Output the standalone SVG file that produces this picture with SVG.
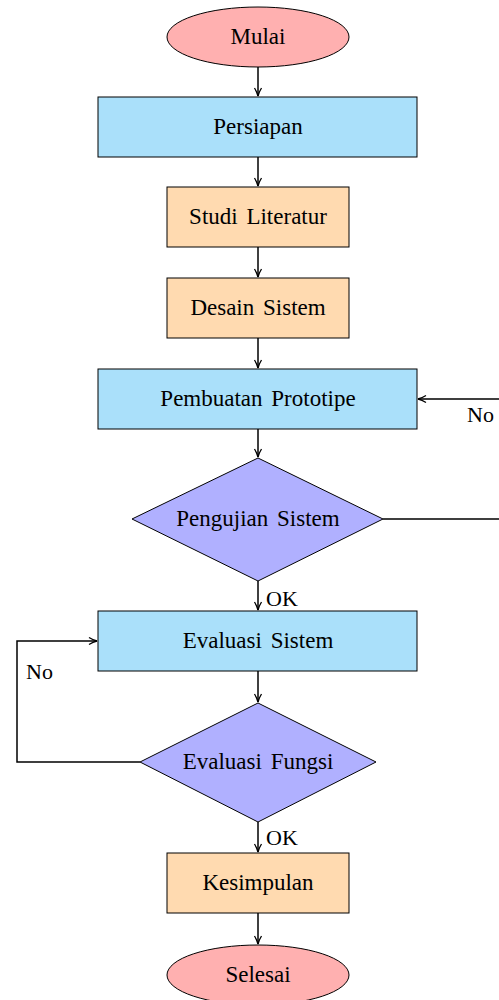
<svg xmlns="http://www.w3.org/2000/svg" width="499" height="1000" viewBox="0 0 499 1000">
<defs>
<style>
.term{fill:#FFB0B0;stroke:#000;stroke-width:1}
.proc{fill:#AAE0FA;stroke:#000;stroke-width:1}
.step{fill:#FFDAB0;stroke:#000;stroke-width:1}
.dec{fill:#B0B0FF;stroke:#000;stroke-width:1}
.c{fill:none;stroke:#000;stroke-width:1.5}
</style>
<marker id="a" viewBox="0 0 10 10" refX="9" refY="5" markerWidth="10" markerHeight="10" markerUnits="userSpaceOnUse" orient="auto">
<path d="M1,1.5 Q5,4 9,5 Q5,6 1,8.5" fill="none" stroke="#000" stroke-width="1.3"/>
</marker>
</defs>
<g id="connectors">
<path class="c" d="M258,67 V96" marker-end="url(#a)"/>
<path class="c" d="M258,157 V186" marker-end="url(#a)"/>
<path class="c" d="M258,247 V277" marker-end="url(#a)"/>
<path class="c" d="M258,338 V368" marker-end="url(#a)"/>
<path class="c" d="M258,429 V457" marker-end="url(#a)"/>
<path class="c" d="M258,581 V610" marker-end="url(#a)"/>
<path class="c" d="M258,671 V702" marker-end="url(#a)"/>
<path class="c" d="M258,822 V852" marker-end="url(#a)"/>
<path class="c" d="M258,913 V944" marker-end="url(#a)"/>
<path class="c" d="M383,519 H530 V399 H418" marker-end="url(#a)"/>
<path class="c" d="M140,762 H17 V641 H97" marker-end="url(#a)"/>
<g font-family="'Liberation Serif', 'Times New Roman', serif" font-size="22">
<text x="266" y="606">OK</text>
<text x="266" y="845">OK</text>
<text x="467" y="422">No</text>
<text x="26" y="679">No</text>
</g>
</g>
<g font-family="'Liberation Serif', 'Times New Roman', serif" font-size="23" text-anchor="middle" word-spacing="3">
<g id="mulai"><ellipse class="term" cx="258" cy="37" rx="91" ry="30"/><text x="258" y="44">Mulai</text></g>
<g id="persiapan"><rect class="proc" x="98" y="97" width="319" height="60"/><text x="258" y="134">Persiapan</text></g>
<g id="studi"><rect class="step" x="167" y="187" width="182" height="60"/><text x="258" y="224">Studi Literatur</text></g>
<g id="desain"><rect class="step" x="167" y="278" width="182" height="60"/><text x="258" y="315">Desain Sistem</text></g>
<g id="pembuatan"><rect class="proc" x="98" y="369" width="319" height="60"/><text x="258" y="406">Pembuatan Prototipe</text></g>
<g id="pengujian"><polygon class="dec" points="258,458 383,519 258,581 132,519"/><text x="258" y="526">Pengujian Sistem</text></g>
<g id="evaluasi"><rect class="proc" x="98" y="611" width="319" height="60"/><text x="258" y="648">Evaluasi Sistem</text></g>
<g id="fungsi"><polygon class="dec" points="258,703 376,762 258,822 140,762"/><text x="258" y="769">Evaluasi Fungsi</text></g>
<g id="kesimpulan"><rect class="step" x="167" y="853" width="182" height="60"/><text x="258" y="890">Kesimpulan</text></g>
<g id="selesai"><ellipse class="term" cx="258" cy="975" rx="91" ry="30"/><text x="258" y="982">Selesai</text></g>
</g>
</svg>
